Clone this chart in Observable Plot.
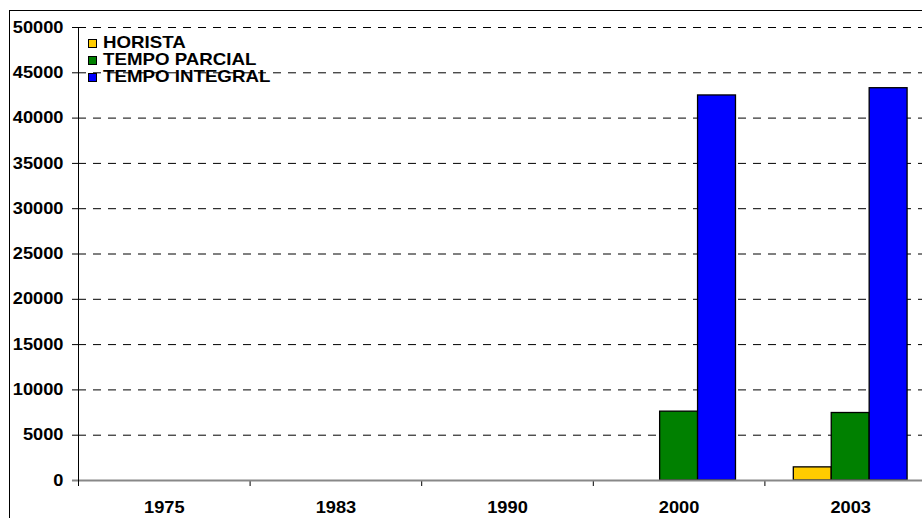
<!DOCTYPE html>
<html>
<head>
<meta charset="utf-8">
<script src="https://cdn.jsdelivr.net/npm/d3@7"></script>
<script src="https://cdn.jsdelivr.net/npm/@observablehq/plot@0.6"></script>
<style>
  html, body { margin: 0; padding: 0; background: #fff; }
  #wrap { position: relative; width: 922px; height: 518px; overflow: hidden; }
  #wrap svg { max-width: none !important; position: absolute; left: 0; top: 0; }
  #border { position: absolute; left: 9px; top: 10px; width: 2000px; height: 2000px; border: 1px solid #000; box-sizing: border-box; }
  #legend { pointer-events: none; }
</style>
</head>
<body>
<div id="wrap">
  <div id="border"></div>
  <div id="chart"></div>
  <svg id="legend" width="922" height="518"></svg>
</div>
<script>
// Categories and series
const years = ["1975", "1983", "1990", "2000", "2003"];
const seriesNames = ["HORISTA", "TEMPO PARCIAL", "TEMPO INTEGRAL"];
const seriesColors = ["#ffcc00", "#008000", "#0000ff"];

// Values per year (null = no data)
const horista  = [null, null, null, null, 1450];
const parcial  = [null, null, null, 7600, 7450];
const integral = [null, null, null, 42500, 43300];

// Y axis tick values
const yTicks = [0, 5000, 10000, 15000, 20000, 25000, 30000, 35000, 40000, 45000, 50000];

// Each year occupies one unit on x; the three bars fill the middle of it
const barFrac = 0.221;
const groupGap = (1 - seriesNames.length * barFrac) / 2;

const columns = [horista, parcial, integral];
const rows = years.flatMap((year, i) =>
  seriesNames.map((series, s) => ({ i, s, year, series, value: columns[s][i] }))
).filter(d => d.value != null);

const centers = years.map((_, i) => i + 0.5);
const boundaries = years.map((_, i) => i).slice(1);

const W = 936, H = 518, mL = 78, mT = 27, mB = 38;
const bold = { fontSize: 16, fontWeight: "bold" };

const chart = Plot.plot({
  width: W,
  height: H,
  marginLeft: mL,
  marginRight: 0,
  marginTop: mT,
  marginBottom: mB,
  style: { fontFamily: '"Liberation Sans", Arial, sans-serif', background: "transparent", color: "#000" },
  x: { domain: [0, years.length] },
  y: { domain: [0, 50000] },
  color: { domain: seriesNames, range: seriesColors },
  marks: [
    Plot.gridY(yTicks.filter(d => d > 0), { stroke: "#000", strokeOpacity: 1, strokeDasharray: "8,7", strokeWidth: 1 }),
    Plot.rectY(rows, {
      x1: d => d.i + groupGap + d.s * barFrac,
      x2: d => d.i + groupGap + (d.s + 1) * barFrac,
      y1: 0,
      y2: "value",
      fill: "series",
      stroke: "#000",
      strokeWidth: 1.3
    }),
    Plot.axisY({ ticks: yTicks, tickSize: 6, tickPadding: 9, tickFormat: d3.format("d"), label: null, ...bold }),
    // category axis: separators between years, and year labels centred in each slot
    Plot.axisX({ ticks: boundaries, tickSize: 6, tickFormat: () => "", label: null }),
    Plot.axisX({ ticks: centers, tickSize: 0, tickPadding: 21, tickFormat: d => years[Math.floor(d)], label: null, ...bold }),
    Plot.ruleY([0], { stroke: "#888", strokeWidth: 2, insetLeft: -6 }),
    Plot.ruleX([0], { stroke: "#000", insetBottom: -6 })
  ]
});

// widen the bold label glyphs a little around their anchors
chart.querySelectorAll("text").forEach(t => {
  const tr = t.getAttribute("transform") || "";
  t.setAttribute("transform", (tr + " scale(1.14,1)").trim());
});

document.getElementById("chart").appendChild(chart);

// legend, top-left inside the plot area
const legend = d3.select("#legend");
const item = legend.selectAll("g")
  .data(seriesNames)
  .join("g")
  .attr("transform", (d, i) => `translate(88,${48 + i * 17})`);
item.append("rect")
  .attr("x", 0.5).attr("y", -8.5)
  .attr("width", 8).attr("height", 8)
  .attr("fill", (d, i) => seriesColors[i])
  .attr("stroke", "#000");
item.append("text")
  .attr("transform", "translate(15,0) scale(1.17,1)")
  .attr("font-family", '"Liberation Sans", Arial, sans-serif')
  .attr("font-size", 16)
  .attr("font-weight", "bold")
  .text(d => d);
</script>
</body>
</html>
